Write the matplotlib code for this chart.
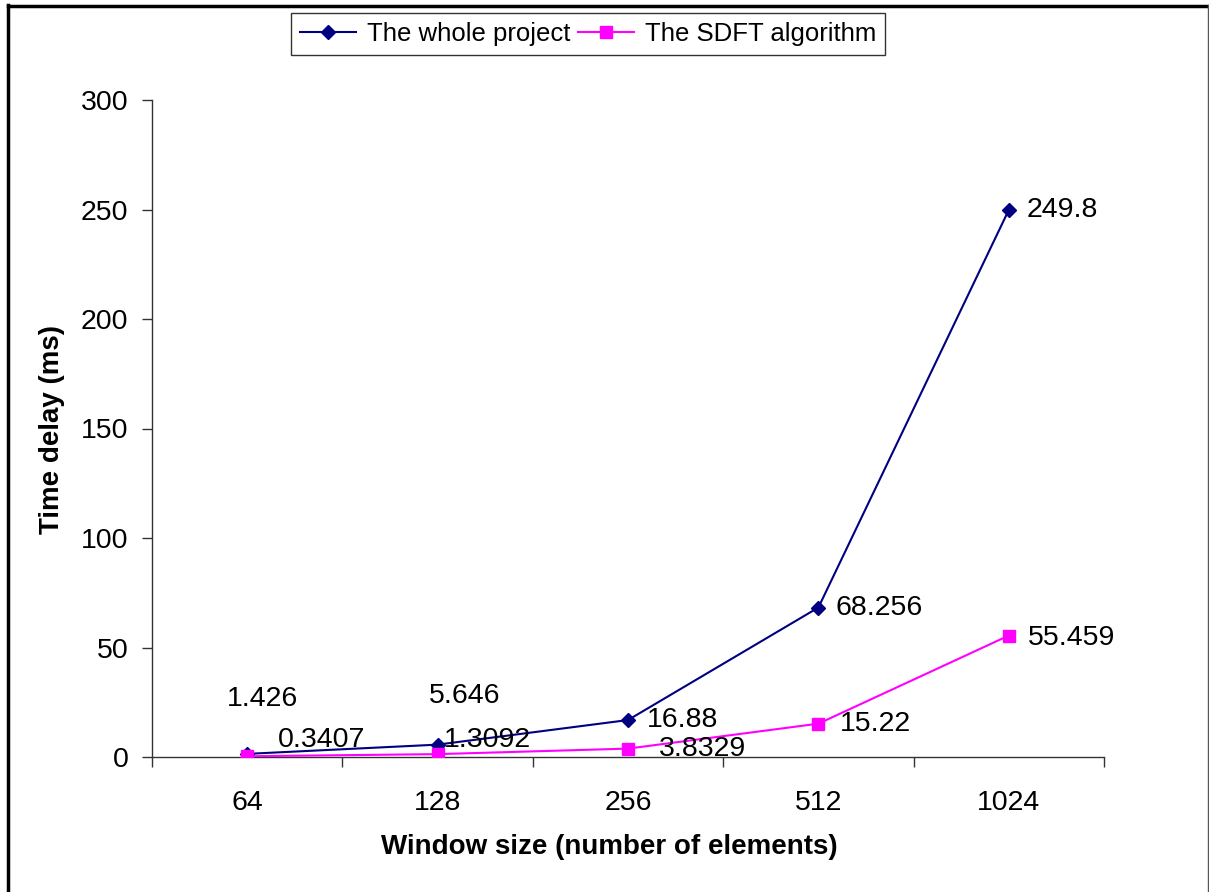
import matplotlib.pyplot as plt
from matplotlib.lines import Line2D

plt.rcParams['font.family'] = ['Liberation Sans', 'DejaVu Sans']

# Timing results per window size
window_sizes = ['64', '128', '256', '512', '1024']
whole_project = [1.426, 5.646, 16.88, 68.256, 249.8]
sdft_algorithm = [0.3407, 1.3092, 3.8329, 15.22, 55.459]

# label offsets in pixels (dx, dy) and horizontal alignment
whole_offsets = [(15, 55, 'center'), (27, 49, 'center'), (19, 0, 'left'),
                 (17, 0, 'left'), (18, 0, 'left')]
sdft_offsets = [(31, 16, 'left'), (6, 14, 'left'), (31, 0, 'left'),
                (21, 0, 'left'), (19, -2, 'left')]

W, H = 1209, 892
fig = plt.figure(figsize=(W / 100, H / 100), dpi=100)
ax = fig.add_axes([152 / W, 1 - 757 / H, (1104 - 152) / W, (757 - 100) / H])

x = list(range(len(window_sizes)))
ax.plot(x, whole_project, color='#000080', lw=1.5, marker='D', ms=7.5,
        label='The whole project', zorder=3)
ax.plot(x, sdft_algorithm, color='#FF00FF', lw=1.5, marker='s', ms=8,
        label='The SDFT algorithm', zorder=3)

px = 0.72  # pixels to points
for vals, offs in [(whole_project, whole_offsets), (sdft_algorithm, sdft_offsets)]:
    for i, (v, (dx, dy, ha)) in enumerate(zip(vals, offs)):
        ax.annotate(f'{v:g}', (i, v), xytext=(dx * px, dy * px),
                    textcoords='offset points', ha=ha, va='center',
                    fontsize=20.5, zorder=4)

ax.set_xlim(-0.5, len(window_sizes) - 0.5)
ax.set_ylim(0, 300)
ax.set_yticks(range(0, 301, 50))
ax.set_xticks(x)
ax.set_xticklabels(window_sizes)
ax.set_xticks([i - 0.5 for i in range(len(window_sizes) + 1)], minor=True)

ax.tick_params(axis='x', which='major', length=0, pad=24, labelsize=20.5)
ax.tick_params(axis='x', which='minor', length=7, width=1, color='#333333')
ax.tick_params(axis='y', length=7, width=1, pad=10, labelsize=20.5, color='#333333')

for side in ['top', 'right']:
    ax.spines[side].set_visible(False)
for side in ['left', 'bottom']:
    ax.spines[side].set_color('#333333')
    ax.spines[side].set_linewidth(1)

ax.set_xlabel('Window size (number of elements)', fontsize=20, fontweight='bold',
              va='center')
ax.xaxis.set_label_coords((609 - 152) / 952, (757 - 847) / 657)
ax.set_ylabel('Time delay (ms)', fontsize=20, fontweight='bold', va='center')
ax.yaxis.set_label_coords((52 - 152) / 952, (757 - 430) / 657)

leg = fig.legend(loc='center', bbox_to_anchor=(588 / W, 1 - 34 / H), ncol=2,
                 fontsize=18.5, frameon=True, fancybox=False, edgecolor='black',
                 handlelength=2.2, handletextpad=0.4, columnspacing=0.3,
                 borderpad=0.35, borderaxespad=0)
leg.get_frame().set_linewidth(1)

# chart area border
fig.add_artist(Line2D([7.5 / W, 7.5 / W], [0, 1 - 5 / H], color='black', lw=2.5))
fig.add_artist(Line2D([7.5 / W, 1207.5 / W], [1 - 5.5 / H, 1 - 5.5 / H],
                      color='black', lw=2.5))
fig.add_artist(Line2D([1207.5 / W, 1207.5 / W], [0, 1 - 5 / H], color='#555555', lw=1))

fig.savefig('out.png', dpi=100)
